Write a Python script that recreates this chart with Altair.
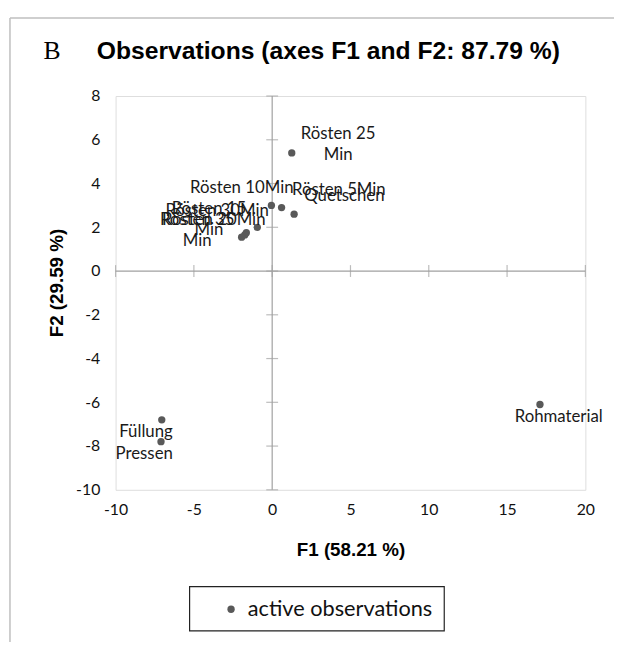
import altair as alt
import pandas as pd

# ---- data ----
names = ["Rohmaterial", "Füllung", "Pressen", "Quetschen", "Rösten 5Min",
         "Rösten 10Min", "Rösten 15 Min", "Rösten 20Min", "Rösten 25 Min",
         "Rösten 30Min", "Rösten 35 Min"]
f1 = [17.1, -7.05, -7.1, 1.4, 0.6, -0.05, -0.95, -1.65, 1.25, -1.75, -1.95]
f2 = [-6.1, -6.8, -7.8, 2.6, 2.9, 3.0, 2.0, 1.75, 5.4, 1.65, 1.55]
x_ticks = [-10, -5, 0, 5, 10, 15, 20]
y_ticks = [-10, -8, -6, -4, -2, 0, 2, 4, 6, 8]
series_name = "active observations"
panel_letter = "B"
title_text = "Observations (axes F1 and F2: 87.79 %)"
x_title = "F1 (58.21 %)"
y_title = "F2 (29.59 %)"

# display text of each point label (line breaks as in the reference)
label_text = {
    "Rohmaterial": "Rohmaterial", "Füllung": "Füllung", "Pressen": "Pressen",
    "Quetschen": "Quetschen", "Rösten 5Min": "Rösten 5Min",
    "Rösten 10Min": "Rösten 10Min", "Rösten 15 Min": "Rösten 15\nMin",
    "Rösten 20Min": "Rösten 20Min", "Rösten 25 Min": "Rösten 25\nMin",
    "Rösten 30Min": "Rösten 30Min", "Rösten 35 Min": "Rösten 35\nMin",
}
# label placement (pixel offsets from the point) -- layout only
label_offset = {
    "Rohmaterial": (19, 13), "Füllung": (-16, 12), "Pressen": (-17, 13),
    "Quetschen": (51, -18), "Rösten 5Min": (58, -18), "Rösten 10Min": (-30, -18),
    "Rösten 15 Min": (-49, -18), "Rösten 20Min": (-33, -13),
    "Rösten 25 Min": (47, -19), "Rösten 30Min": (-28, -24),
    "Rösten 35 Min": (-45, -17),
}

df = pd.DataFrame({"name": names, "F1": f1, "F2": f2,
                   "label": [label_text[n] for n in names],
                   "series": [series_name] * len(names)})

W, H = 476, 399
FONT = "Lato"
GRID = "#bfbfbf"
AXIS0 = "#a0a0a0"
PT = "#595959"
HYPHEN_LABEL = "datum.value < 0 ? '-' + abs(datum.value) : '' + datum.value"

xs = alt.Scale(domain=[x_ticks[0], x_ticks[-1]], nice=False, zero=False)
ys = alt.Scale(domain=[y_ticks[0], y_ticks[-1]], nice=False, zero=False)

x_axis = alt.Axis(values=x_ticks, title=x_title, grid=False, ticks=False, domain=False,
                  labelFlush=False, labelExpr=HYPHEN_LABEL,
                  labelFont=FONT, labelFontSize=16, labelColor="#111", labelPadding=12,
                  titleFont="Liberation Sans", titleFontSize=19, titleFontWeight="bold",
                  titleColor="#000", titleX=W / 2, titleY=61, titleBaseline="middle",
                  titleAlign="center")
y_axis = alt.Axis(values=y_ticks, title=y_title, grid=False, ticks=False, domain=False,
                  labelFlush=False, labelExpr=HYPHEN_LABEL,
                  labelFont=FONT, labelFontSize=16, labelColor="#111", labelPadding=16,
                  titleFont="Liberation Sans", titleFontSize=19, titleFontWeight="bold",
                  titleColor="#000", titleX=-60, titleY=189, titleBaseline="middle",
                  titleAlign="center", titleAngle=-90)

zero_v = alt.Chart(pd.DataFrame({"v": [0]})).mark_rule(color=AXIS0, strokeWidth=1.2).encode(
    x=alt.X("v:Q", scale=xs, axis=x_axis))
zero_h = alt.Chart(pd.DataFrame({"v": [0]})).mark_rule(color=AXIS0, strokeWidth=1.2).encode(
    y=alt.Y("v:Q", scale=ys, axis=y_axis))

xt = alt.Chart(pd.DataFrame({"t": x_ticks})).transform_calculate(z="0").mark_tick(
    orient="vertical", size=12, thickness=1.2, color=AXIS0).encode(
    x=alt.X("t:Q", scale=xs), y=alt.Y("z:Q", scale=ys))
yt = alt.Chart(pd.DataFrame({"t": y_ticks})).transform_calculate(z="0").mark_tick(
    orient="horizontal", size=12, thickness=1.2, color=AXIS0).encode(
    y=alt.Y("t:Q", scale=ys), x=alt.X("z:Q", scale=xs))

points = alt.Chart(df).mark_circle(size=55, opacity=1).encode(
    x=alt.X("F1:Q", scale=xs),
    y=alt.Y("F2:Q", scale=ys),
    color=alt.Color("series:N", scale=alt.Scale(range=[PT]),
                    legend=alt.Legend(title=None, orient="none", legendX=106, legendY=509,
                                      labelFont=FONT, labelFontSize=22, labelColor="#111",
                                      labelLimit=400, symbolType="circle", symbolSize=55,
                                      labelOffset=6, padding=0)),
)

labels = []
for n in names:
    dx, dy = label_offset[n]
    labels.append(
        alt.Chart(df).transform_filter(alt.datum.name == n).mark_text(
            font=FONT, fontSize=17, color="#1a1a1a", align="center", baseline="middle",
            dx=dx, dy=dy, lineBreak="\n", lineHeight=21).encode(
            x=alt.X("F1:Q", scale=xs), y=alt.Y("F2:Q", scale=ys), text="label:N")
    )

letter = alt.Chart(pd.DataFrame({"t": [panel_letter]})).mark_text(
    font="Liberation Serif", fontSize=26, color="#000", align="left", baseline="middle").encode(
    text="t:N", x=alt.value(-73), y=alt.value(-46))
title = alt.Chart(pd.DataFrame({"t": [title_text]})).mark_text(
    font="Liberation Sans", fontSize=25, fontWeight="bold", color="#000", align="left",
    baseline="middle").encode(text="t:N", x=alt.value(-19), y=alt.value(-46))

frame_left = alt.Chart(pd.DataFrame({"t": [0]})).mark_rule(color=GRID, strokeWidth=1.5).encode(
    x=alt.value(-107), y=alt.value(-79), y2=alt.value(560))
frame_top = alt.Chart(pd.DataFrame({"t": [0]})).mark_rule(color=GRID, strokeWidth=1.5).encode(
    x=alt.value(-107), x2=alt.value(520), y=alt.value(-79))
legend_box = alt.Chart(pd.DataFrame({"t": [0]})).mark_rect(
    fill=None, fillOpacity=0, stroke="#222", strokeWidth=1.2).encode(
    x=alt.value(75), x2=alt.value(333), y=alt.value(497), y2=alt.value(542))

chart = alt.layer(
    frame_left, frame_top, zero_v, zero_h, xt, yt, points, *labels, letter, title, legend_box
).properties(
    width=W, height=H,
    padding={"left": 109, "top": 85, "right": 29, "bottom": 150},
    autosize=alt.AutoSizeParams(type="none"),
).configure_view(stroke=GRID, strokeWidth=1.5).configure(background="white")

chart.save("out.html", embed_options={"renderer": "svg", "actions": False})
